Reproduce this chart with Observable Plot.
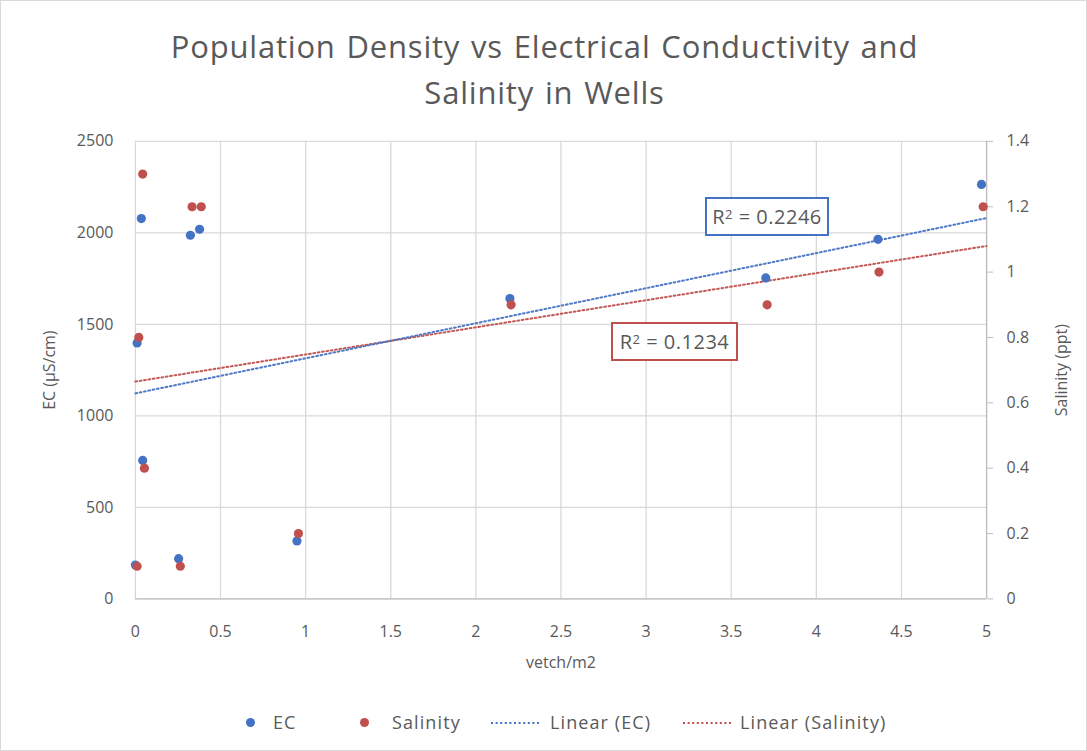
<!DOCTYPE html>
<html><head><meta charset="utf-8">
<script src="https://cdn.jsdelivr.net/npm/d3@7"></script>
<script src="https://cdn.jsdelivr.net/npm/@observablehq/plot@0.6"></script>
<style>
body{margin:0;background:#fff;font-family:"Open Sans",sans-serif;color:#595959;}
#wrap{position:relative;width:1085px;height:749px;border:1px solid #d9d9d9;overflow:hidden;}
#chart{position:absolute;left:-1px;top:-1px;}
#title{position:absolute;left:0;width:1087px;top:22px;text-align:center;font-size:31px;line-height:46px;letter-spacing:0.8px;word-spacing:2px;color:#595959;}
.r2{position:absolute;box-sizing:border-box;border:2px solid;font-size:20px;letter-spacing:0.5px;color:#595959;display:flex;align-items:center;justify-content:center;background:#fff;}
.r2 sup{font-size:13px;position:relative;top:-3px;}
#legend{position:absolute;top:0;left:0;width:1087px;height:751px;pointer-events:none;}
.lt{position:absolute;font-size:18px;letter-spacing:1.1px;color:#595959;line-height:24px;top:709px;}
.dot{position:absolute;width:9px;height:9px;border-radius:50%;top:717px;}
.sw{position:absolute;top:719px;}
</style></head><body>
<div id="wrap">
<div id="chart"></div>
<div id="title">Population Density vs Electrical Conductivity and<br>Salinity in Wells</div>
<div class="r2" style="left:704px;top:196px;width:124px;height:39px;border-color:#4472C4">R<sup>2</sup>&nbsp;= 0.2246</div>
<div class="r2" style="left:610px;top:321px;width:127px;height:39px;border-color:#C0504D">R<sup>2</sup>&nbsp;= 0.1234</div>
<div id="legend"></div>
</div>
<script>
// --- data ---
const ecVetch  = [0.035, 0.323, 0.377, 0.01, 0.043, 0.0, 0.254, 0.949, 2.20, 3.703, 4.362, 4.97];
const ecValues = [2078, 1987, 2020, 1399, 757, 185, 220, 317, 1641, 1754, 1965, 2265];
const salVetch  = [0.043, 0.333, 0.387, 0.02, 0.053, 0.01, 0.264, 0.958, 2.207, 3.711, 4.368, 4.98];
const salValues = [1.3, 1.2, 1.2, 0.8, 0.4, 0.1, 0.1, 0.2, 0.9, 0.9, 1.0, 1.2];
const trendX   = [0, 5];
const trendEC  = [1123, 2081];
const trendSal = [0.665, 1.08];
const xTicks   = [0, 0.5, 1, 1.5, 2, 2.5, 3, 3.5, 4, 4.5, 5];
const ecTicks  = [0, 500, 1000, 1500, 2000, 2500];
const salTicks = [0, 0.2, 0.4, 0.6, 0.8, 1.0, 1.2, 1.4];
const legendLabels = ["EC", "Salinity", "Linear (EC)", "Linear (Salinity)"];
const ecMax = 2500, salMax = 1.4;

const blue = "#4472C4", red = "#C0504D", txt = "#595959";
const k = ecMax / salMax; // salinity -> EC-scale factor

const ecData  = ecVetch.map((x, i) => ({x, y: ecValues[i]}));
const salData = salVetch.map((x, i) => ({x, y: salValues[i] * k}));
const ecTrend  = trendX.map((x, i) => ({x, y: trendEC[i]}));
const salTrend = trendX.map((x, i) => ({x, y: trendSal[i] * k}));

const fmt = v => String(+v.toFixed(2));

const chart = Plot.plot({
  width: 1087, height: 751,
  marginLeft: 135, marginRight: 100, marginTop: 141, marginBottom: 152,
  style: {fontFamily: '"Open Sans", sans-serif', color: txt, background: "transparent"},
  x: {domain: [0, 5]},
  y: {domain: [0, ecMax]},
  marks: [
    Plot.gridX(xTicks, {stroke: "#d9d9d9", strokeOpacity: 1, strokeWidth: 1.3}),
    Plot.gridY(ecTicks, {stroke: "#d9d9d9", strokeOpacity: 1, strokeWidth: 1.3}),
    Plot.ruleY([0], {stroke: "#bfbfbf", strokeWidth: 1.3}),
    Plot.ruleX([5], {stroke: "#bfbfbf", strokeWidth: 1.3}),
    Plot.axisX(xTicks, {tickSize: 0, tickPadding: 27, fontSize: 16, fill: txt, tickFormat: fmt,
      label: "vetch/m2", labelAnchor: "center", labelArrow: "none", labelOffset: 69}),
    Plot.axisY(ecTicks, {anchor: "left", tickSize: 0, tickPadding: 22, fontSize: 16, fill: txt, tickFormat: d => String(d),
      label: "EC (µS/cm)", labelAnchor: "center", labelArrow: "none", labelOffset: 92}),
    Plot.axisY(salTicks.map(v => v * k), {anchor: "right", tickSize: 6, stroke: "#bfbfbf", tickPadding: 14, fontSize: 16, fill: txt,
      tickFormat: d => fmt(d / k),
      label: "Salinity (ppt)", labelAnchor: "center", labelArrow: "none", labelOffset: 80}),
    Plot.line(salTrend, {x: "x", y: "y", stroke: red, strokeWidth: 2, strokeDasharray: "1.8,2.6", strokeOpacity: 0.95}),
    Plot.line(ecTrend, {x: "x", y: "y", stroke: blue, strokeWidth: 2, strokeDasharray: "1.8,2.6", strokeOpacity: 0.95}),
    Plot.dot(ecData, {x: "x", y: "y", r: 4.6, fill: blue}),
    Plot.dot(salData, {x: "x", y: "y", r: 4.6, fill: red})
  ]
});
document.getElementById("chart").appendChild(chart);

// legend (Excel-style, fixed slots)
const legendSlots = [
  {type: "dot", color: blue, sym: 244.5, text: 272},
  {type: "dot", color: red, sym: 358.5, text: 391},
  {type: "line", color: blue, sym: 490, text: 549},
  {type: "line", color: red, sym: 682, text: 739}
];
const lg = document.getElementById("legend");
legendSlots.forEach((s, i) => {
  if (s.type === "dot") {
    const d = document.createElement("span");
    d.className = "dot"; d.style.left = s.sym + "px"; d.style.background = s.color;
    lg.appendChild(d);
  } else {
    const w = document.createElement("div");
    w.className = "sw"; w.style.left = s.sym + "px";
    w.innerHTML = `<svg width="50" height="6" style="display:block"><line x1="0" y1="3" x2="50" y2="3" stroke="${s.color}" stroke-width="2" stroke-dasharray="2,2.6"/></svg>`;
    lg.appendChild(w);
  }
  const t = document.createElement("span");
  t.className = "lt"; t.style.left = s.text + "px"; t.textContent = legendLabels[i];
  lg.appendChild(t);
});
</script>
</body></html>
